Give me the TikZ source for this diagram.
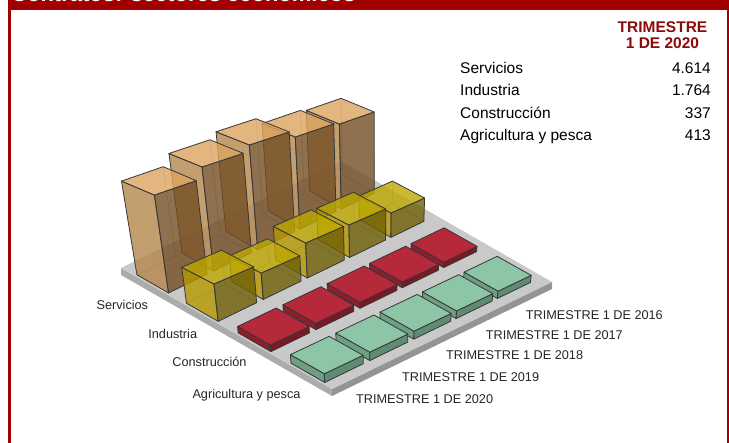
\documentclass[tikz,border=0pt]{standalone}
\usepackage{fontspec}
\setmainfont{Liberation Sans}
\definecolor{hdrred}{RGB}{160,0,0}
\definecolor{ttlred}{RGB}{140,10,10}
\definecolor{svT}{RGB}{222,164,96}
\definecolor{svL}{RGB}{181,134,76}
\definecolor{svR}{RGB}{115,78,36}
\definecolor{inT}{RGB}{190,168,0}
\definecolor{inL}{RGB}{183,152,0}
\definecolor{inR}{RGB}{112,95,5}
\definecolor{coT}{RGB}{181,41,58}
\definecolor{coL}{RGB}{142,30,44}
\definecolor{coR}{RGB}{120,25,36}
\definecolor{agT}{RGB}{141,198,166}
\definecolor{agL}{RGB}{110,158,132}
\definecolor{agR}{RGB}{95,138,115}
\definecolor{edge}{RGB}{55,55,55}
\def\Vx{375}
\def\Vy{1720}
\newcommand{\projpt}[4]{%
  \pgfmathsetmacro{\pBX}{121+220*(#2)+211*(#3)}%
  \pgfmathsetmacro{\pBY}{268-107*(#2)+121*(#3)}%
  \pgfmathsetmacro{\pTY}{\pBY-(#4)*((\pBY+133)/400)}%
  \pgfmathsetmacro{\pTX}{\Vx+(\pBX-\Vx)*((\Vy-\pTY)/(\Vy-\pBY))}%
  \coordinate (#1) at (\pTX,\pTY);%
}
\newcommand{\barbox}[6]{%
  \projpt{Lb}{#1}{#3}{0}\projpt{Fb}{#1}{#4}{0}\projpt{Rb}{#2}{#4}{0}\projpt{Kb}{#2}{#3}{0}%
  \projpt{Lt}{#1}{#3}{#5}\projpt{Ft}{#1}{#4}{#5}\projpt{Rt}{#2}{#4}{#5}\projpt{Kt}{#2}{#3}{#5}%
  \draw[#6 hidden] (Lb) -- (Kb) -- (Rb) (Kb) -- (Kt);
  \filldraw[#6 left] (Lb) -- (Fb) -- (Ft) -- (Lt) -- cycle;
  \filldraw[#6 right] (Fb) -- (Rb) -- (Rt) -- (Ft) -- cycle;
  \filldraw[#6 top] (Lt) -- (Ft) -- (Rt) -- (Kt) -- cycle;
}
\begin{document}
\begin{tikzpicture}[x=1pt,y=-1pt,
  bx/.style={draw=edge, line width=0.8pt, line join=round},
  sv hidden/.style={draw=edge, draw opacity=0.35, line width=0.7pt},
  sv left/.style={bx, fill=svL, fill opacity=0.8},
  sv right/.style={bx, fill=svR, fill opacity=0.8},
  sv top/.style={bx, fill=svT, fill opacity=0.8},
  in hidden/.style={draw=edge, draw opacity=0.35, line width=0.7pt},
  in left/.style={bx, fill=inL, fill opacity=0.8},
  in right/.style={bx, fill=inR, fill opacity=0.8},
  in top/.style={bx, fill=inT, fill opacity=0.8},
  co hidden/.style={draw=none},
  co left/.style={bx, fill=coL},
  co right/.style={bx, fill=coR},
  co top/.style={bx, fill=coT},
  ag hidden/.style={draw=none},
  ag left/.style={bx, fill=agL},
  ag right/.style={bx, fill=agR},
  ag top/.style={bx, fill=agT},
  tab/.style={font=\fontsize{15.5}{18}\selectfont, inner sep=0pt, text=black},
  tabh/.style={font=\bfseries\fontsize{15.5}{18}\selectfont, inner sep=0pt, text=ttlred},
  axl/.style={font=\fontsize{12.7}{15}\selectfont, inner sep=0pt, text=black!85}
]
\clip (0,0) rectangle (729,443);
\fill[white] (0,0) rectangle (729,443);
% frame and header
\fill[hdrred] (7.5,0) rectangle (729,10.5);
\node[anchor=base west, inner sep=0pt, text=white, font=\bfseries\fontsize{22}{26}\selectfont] (title) at (11,2) {Contratos: sectores económicos};
\draw[hdrred, line width=3pt] (9,0) -- (9,443);
\draw[hdrred, line width=2.5pt] (728,0) -- (728,443);
% table
\node[tabh, anchor=base] (th1) at (662.5,32.7) {TRIMESTRE};
\node[tabh, anchor=base] (th2) at (662.5,49) {1 DE 2020};
\node[tab, anchor=base west] (r1) at (460,73.3) {Servicios};
\node[tab, anchor=base west] (r2) at (460,96) {Industria};
\node[tab, anchor=base west] (r3) at (460,118.5) {Construcción};
\node[tab, anchor=base west] (r4) at (460,141) {Agricultura y pesca};
\node[tab, anchor=base east] (n1) at (711,73.3) {4.614};
\node[tab, anchor=base east] (n2) at (711,96) {1.764};
\node[tab, anchor=base east] (n3) at (711,118.5) {337};
\node[tab, anchor=base east] (n4) at (711,141) {413};
% plate
\coordinate (pL) at (121,268);
\coordinate (pF) at (332,389);
\coordinate (pR) at (552,282);
\coordinate (pK) at (341,161);
\coordinate (pLd) at (121,275);
\coordinate (pFd) at (332,396);
\coordinate (pRd) at (552,289);
\fill[black!33] (pL) -- (pF) -- (pFd) -- (pLd) -- cycle;
\fill[black!42] (pF) -- (pR) -- (pRd) -- (pFd) -- cycle;
\fill[black!21] (pL) -- (pF) -- (pR) -- (pK) -- cycle;
% bars: Servicios
\foreach \ua/\ub/\hh in {0.795/0.945/99.3, 0.607/0.771/101.7, 0.415/0.583/109.4, 0.215/0.387/103, 0.01/0.185/91.9}
  {\barbox{\ua}{\ub}{0.065}{0.215}{\hh}{sv}}
% Industria
\foreach \ua/\ub/\hh in {0.795/0.945/26.3, 0.607/0.771/33.3, 0.415/0.583/34.1, 0.215/0.387/24.4, 0.01/0.185/32.9}
  {\barbox{\ua}{\ub}{0.30}{0.45}{\hh}{in}}
% Construccion
\foreach \ua/\ub/\hh in {0.795/0.945/5.5, 0.607/0.771/5.5, 0.415/0.583/5.5, 0.215/0.387/5.5, 0.01/0.185/5.5}
  {\barbox{\ua}{\ub}{0.545}{0.70}{\hh}{co}}
% Agricultura
\foreach \ua/\ub/\hh in {0.795/0.945/6.8, 0.607/0.771/6.8, 0.415/0.583/6.8, 0.215/0.387/6.8, 0.01/0.185/6.8}
  {\barbox{\ua}{\ub}{0.795}{0.955}{\hh}{ag}}
% axis labels
\node[axl, anchor=base east] (a1) at (148.3,310) {Servicios};
\node[axl, anchor=base east] (a2) at (197.3,339) {Industria};
\node[axl, anchor=base east] (a3) at (246.7,366.7) {Construcción};
\node[axl, anchor=base east] (a4) at (300.7,398.3) {Agricultura y pesca};
\node[axl, anchor=base west] (t1) at (356,404) {TRIMESTRE 1 DE 2020};
\node[axl, anchor=base west] (t2) at (402,382) {TRIMESTRE 1 DE 2019};
\node[axl, anchor=base west] (t3) at (446,360) {TRIMESTRE 1 DE 2018};
\node[axl, anchor=base west] (t4) at (485.7,340) {TRIMESTRE 1 DE 2017};
\node[axl, anchor=base west] (t5) at (525.7,320) {TRIMESTRE 1 DE 2016};
\end{tikzpicture}
\end{document}
